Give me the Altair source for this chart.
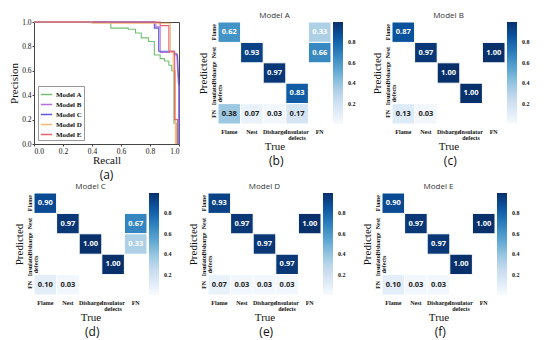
import altair as alt
import pandas as pd

# ---------------- data ----------------
categories = ["Flame", "Nest", "Disharge", "Insulator defects", "FN"]

model_a = [[0.62, 0, 0, 0, 0.33],
           [0, 0.93, 0, 0, 0.66],
           [0, 0, 0.97, 0, 0],
           [0, 0, 0, 0.83, 0],
           [0.38, 0.07, 0.03, 0.17, 0]]
model_b = [[0.87, 0, 0, 0, 0],
           [0, 0.97, 0, 0, 1.00],
           [0, 0, 1.00, 0, 0],
           [0, 0, 0, 1.00, 0],
           [0.13, 0.03, 0, 0, 0]]
model_c = [[0.90, 0, 0, 0, 0],
           [0, 0.97, 0, 0, 0.67],
           [0, 0, 1.00, 0, 0.33],
           [0, 0, 0, 1.00, 0],
           [0.10, 0.03, 0, 0, 0]]
model_d = [[0.93, 0, 0, 0, 0],
           [0, 0.97, 0, 0, 1.00],
           [0, 0, 0.97, 0, 0],
           [0, 0, 0, 0.97, 0],
           [0.07, 0.03, 0.03, 0.03, 0]]
model_e = [[0.90, 0, 0, 0, 0],
           [0, 0.97, 0, 0, 1.00],
           [0, 0, 0.97, 0, 0],
           [0, 0, 0, 1.00, 0],
           [0.10, 0.03, 0.03, 0, 0]]

pr_models = ["Model A", "Model B", "Model C", "Model D", "Model E"]
pr_colors = ["#72c072", "#b56ee0", "#5a5ad8", "#f6b676", "#e6606e"]

a_recall = [0, 0.53, 0.53, 0.65, 0.65, 0.70, 0.70, 0.74, 0.74, 0.79, 0.79, 0.83, 0.83,
            0.87, 0.87, 0.90, 0.90, 0.93, 0.93, 0.95, 0.95, 0.965, 0.965, 0.985, 0.985]
a_precision = [1, 1, 0.95, 0.95, 0.94, 0.94, 0.91, 0.91, 0.87, 0.87, 0.84, 0.84, 0.73,
               0.73, 0.70, 0.70, 0.68, 0.68, 0.645, 0.645, 0.60, 0.60, 0.17, 0.17, 0.0]
b_recall = [0, 0.84, 0.84, 0.87, 0.87, 0.965, 0.965, 0.985, 0.995, 1.0, 1.0]
b_precision = [1, 1, 0.96, 0.96, 0.75, 0.75, 0.73, 0.73, 0.50, 0.48, 0.0]
c_recall = [0, 0.83, 0.83, 0.86, 0.86, 0.965, 0.965, 0.985, 0.99, 1.0, 1.0]
c_precision = [1, 1, 0.95, 0.95, 0.76, 0.76, 0.74, 0.74, 0.72, 0.47, 0.0]
d_recall = [0, 0.40, 0.40, 0.94, 0.94, 0.96, 0.96, 0.975, 0.975]
d_precision = [1, 1, 0.99, 0.99, 0.75, 0.75, 0.60, 0.60, 0.0]
e_recall = [0, 0.87, 0.87, 0.93, 0.93, 0.97, 0.97, 0.99, 0.99]
e_precision = [1, 1, 0.97, 0.97, 0.76, 0.76, 0.20, 0.20, 0.0]

BLUES = ["#f7fbff", "#deebf7", "#c6dbef", "#9ecae1", "#6baed6",
         "#4292c6", "#2171b5", "#08519c", "#08306b"]
STOPS = [i / 8 for i in range(9)]
SERIF = "Liberation Serif"
SANS = "Open Sans"

HM_W = 113
HM_H = 102

# ---------------- PR curve ----------------
pr_rows = []
for name, rec, pre in zip(pr_models,
                          [a_recall, b_recall, c_recall, d_recall, e_recall],
                          [a_precision, b_precision, c_precision, d_precision, e_precision]):
    for i, (r, p) in enumerate(zip(rec, pre)):
        pr_rows.append({"model": name, "recall": r, "precision": p, "idx": i})
pr_df = pd.DataFrame(pr_rows)

ticks01 = [0, 0.2, 0.4, 0.6, 0.8, 1.0]
pr_axis = dict(values=ticks01, format=".1f", grid=False, tickSize=2, tickColor="#444",
               domain=False, labelFont=SERIF, labelFontSize=7.5, labelColor="#111",
               titleFont=SERIF, titleFontSize=11, titleFontWeight="normal", titleColor="#111")

pr = alt.Chart(pr_df).mark_line(strokeWidth=1.1).encode(
    x=alt.X("recall:Q", scale=alt.Scale(domain=[0, 1], nice=False),
            axis=alt.Axis(title="Recall", titlePadding=0, labelPadding=1, **pr_axis)),
    y=alt.Y("precision:Q", scale=alt.Scale(domain=[0, 1], nice=False),
            axis=alt.Axis(title="Precision", titlePadding=2, labelPadding=1, **pr_axis)),
    color=alt.Color("model:N", scale=alt.Scale(domain=pr_models, range=pr_colors),
                    legend=alt.Legend(title=None, orient="bottom-left", offset=4, padding=2,
                                      strokeColor="#999", fillColor="white",
                                      symbolType="stroke", symbolSize=130,
                                      symbolStrokeWidth=1.5, labelFont=SERIF,
                                      labelFontSize=7, labelFontWeight="bold",
                                      labelColor="#111", rowPadding=0, labelOffset=3)),
    order="idx:Q",
).properties(
    width=145, height=122,
    view=alt.ViewBackground(stroke="#444", strokeWidth=1),
    title=alt.TitleParams("(a)", orient="bottom", font=SANS, fontSize=12,
                          fontWeight="normal", color="#111", offset=4, anchor="middle"),
)


# ---------------- heatmaps ----------------
def heatmap(matrix, name, tag):
    rows = []
    for i, p in enumerate(categories):
        for j, t in enumerate(categories):
            v = matrix[i][j]
            if v > 0:
                rows.append({"pred": p, "true": t, "v": v, "label": f"{v:.2f}"})
    df = pd.DataFrame(rows)
    label_expr = "datum.value == 'Insulator defects' ? ['Insulator', 'defects'] : datum.value"
    base = alt.Chart(df).encode(
        x=alt.X("true:N", sort=categories, scale=alt.Scale(domain=categories),
                axis=alt.Axis(title="True", orient="bottom", labelAngle=0, ticks=False,
                              domain=False, labelFont=SERIF, labelFontSize=6,
                              labelFontWeight="bold", labelColor="#111", labelPadding=4,
                              labelLineHeight=6.5, labelExpr=label_expr, labelBaseline="top",
                              titleFont=SERIF, titleFontSize=11, titleFontWeight="normal",
                              titleColor="#111", titlePadding=0)),
        y=alt.Y("pred:N", sort=categories, scale=alt.Scale(domain=categories),
                axis=alt.Axis(title="Predicted", labelAngle=270, labelAlign="center",
                              labelBaseline="bottom", ticks=False, domain=False,
                              labelFont=SERIF, labelFontSize=6, labelFontWeight="bold",
                              labelColor="#111", labelPadding=2, labelLineHeight=6.5,
                              labelExpr=label_expr, titleFont=SERIF, titleFontSize=11,
                              titleFontWeight="normal", titleColor="#111", titlePadding=2)),
    )
    rect = base.mark_rect(stroke="white", strokeWidth=1).encode(
        color=alt.Color("v:Q", scale=alt.Scale(domain=STOPS, range=BLUES),
                        legend=alt.Legend(title=None, orient="right", offset=1,
                                          gradientLength=HM_H, gradientThickness=10,
                                          gradientStrokeWidth=0,
                                          values=[0.2, 0.4, 0.6, 0.8], format=".1f",
                                          labelFont=SERIF, labelFontSize=6,
                                          labelFontWeight="bold", labelColor="#111",
                                          labelOffset=5, padding=0)),
    )
    text = base.mark_text(font=SANS, fontSize=7.5, fontWeight="bold").encode(
        text="label:N",
        color=alt.condition("datum.v > 0.5 || datum.true == 'FN'",
                            alt.value("white"), alt.value("#222")),
    )
    hm = alt.layer(rect, text).properties(
        width=HM_W, height=HM_H,
        title=alt.TitleParams(name, font=SANS, fontSize=8, fontWeight="normal",
                              color="#333", offset=2, anchor="middle", frame="group"),
    )
    return alt.vconcat(hm, title=alt.TitleParams(tag, orient="bottom", font=SANS,
                                                  fontSize=12, fontWeight="normal",
                                                  color="#111", offset=4, anchor="middle"))


row1 = alt.hconcat(pr, heatmap(model_a, "Model A", "(b)"), heatmap(model_b, "Model B", "(c)"),
                   spacing=14).resolve_scale(color="independent")
row2 = alt.hconcat(heatmap(model_c, "Model C", "(d)"), heatmap(model_d, "Model D", "(e)"),
                   heatmap(model_e, "Model E", "(f)"),
                   spacing=14).resolve_scale(color="independent")

chart = alt.vconcat(row1, row2, spacing=1).resolve_scale(color="independent").properties(
    padding={"top": 3, "bottom": 3, "left": 0, "right": 0}
).configure_view(stroke="transparent")

chart.save("out.html", embed_options={"renderer": "svg", "actions": False})
